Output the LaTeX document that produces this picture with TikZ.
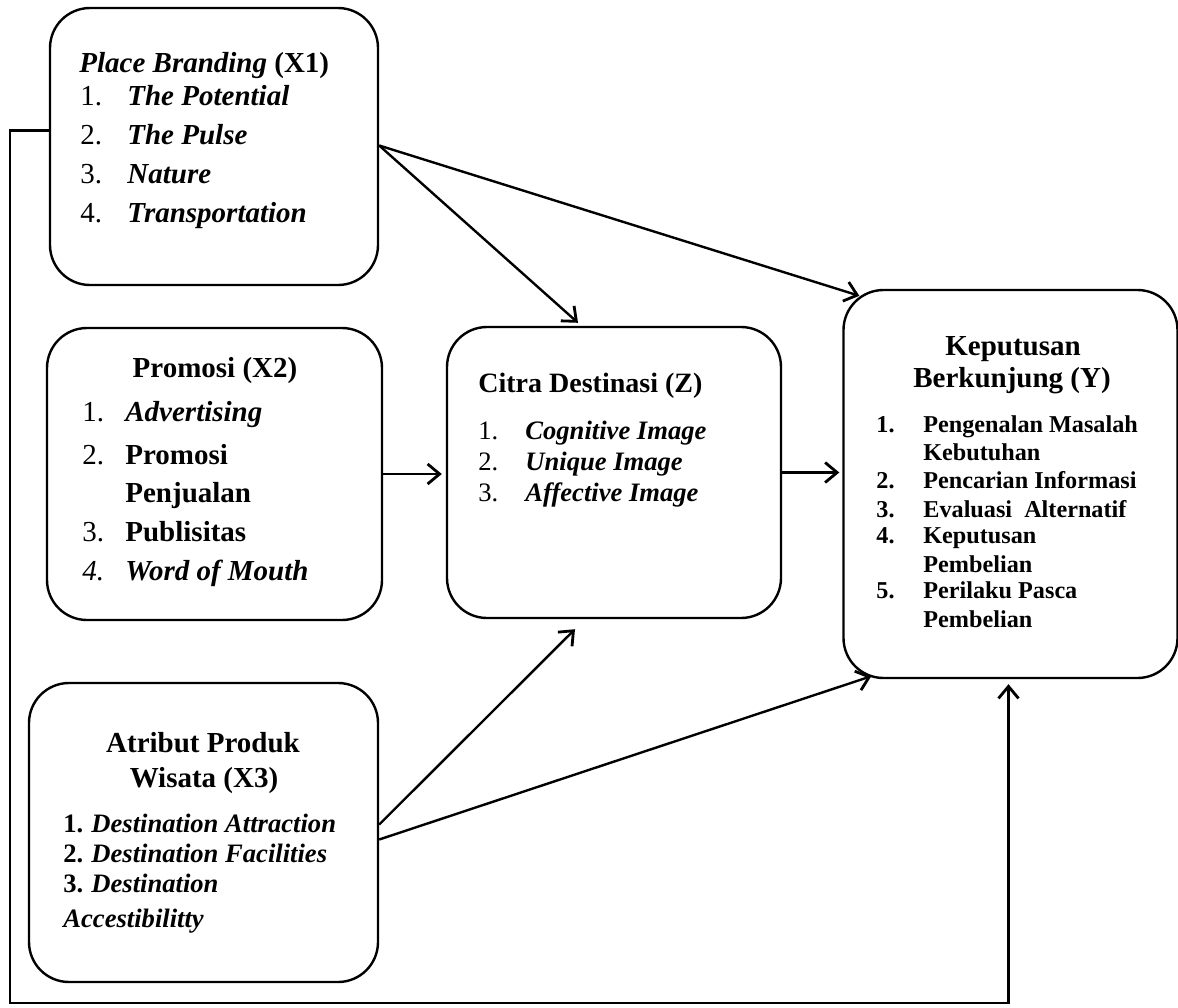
\documentclass[tikz,border=0pt]{standalone}
\usepackage{fontspec}
\setmainfont{Liberation Serif}
\usetikzlibrary{arrows.meta,calc}
\begin{document}
\begin{tikzpicture}[x=0.5pt,y=-0.5pt,
  box/.style={draw, line width=1.2pt, rounded corners=20pt, fill=white, inner sep=0pt},
  conn/.style={line width=1.2pt, -{Straight Barb[length=6pt,width=10pt,line width=1.4pt]}},
  txt/.style={anchor=base west, inner sep=0pt},
  ctxt/.style={anchor=base, inner sep=0pt},
  fa/.style={font=\fontsize{14.5}{17}\selectfont},
  fz/.style={font=\fontsize{13.3}{16}\selectfont},
  fy/.style={font=\fontsize{12.1}{14}\selectfont\bfseries},
  ft/.style={font=\fontsize{14.5}{17}\selectfont\bfseries}]
\useasboundingbox (0,0) rectangle (1178,1007);
% boxes
\node[box, minimum width=164pt, minimum height=138.5pt] (x1) at (214,146.5) {};
\node[box, minimum width=167.5pt, minimum height=146pt] (x2) at (214.5,474) {};
\node[box, minimum width=174.5pt, minimum height=149.5pt] (x3) at (203.5,832.5) {};
\node[box, minimum width=167pt, minimum height=145.5pt] (z) at (614,472.5) {};
\node[box, minimum width=167pt, minimum height=194pt] (y) at (1010.5,484) {};
% X1 text
\node[txt,fa] (x1t) at (79,72) {\textbf{\textit{Place Branding}} \textbf{(X1)}};
\node[txt,fa] (x1n1) at (80,105) {1.};
\node[txt,fa] (x1i1) at (127,105) {\textbf{\textit{The Potential}}};
\node[txt,fa] (x1n2) at (80,144) {2.};
\node[txt,fa] (x1i2) at (127,144) {\textbf{\textit{The Pulse}}};
\node[txt,fa] (x1n3) at (80,183) {3.};
\node[txt,fa] (x1i3) at (127,183) {\textbf{\textit{Nature}}};
\node[txt,fa] (x1n4) at (80,222) {4.};
\node[txt,fa] (x1i4) at (127,222) {\textbf{\textit{Transportation}}};
% X2 text
\node[ctxt,ft] (x2t) at (215,377) {Promosi (X2)};
\node[txt,fa] (x2n1) at (82,421) {1.};
\node[txt,fa] (x2i1) at (125,421) {\textbf{\textit{Advertising}}};
\node[txt,fa] (x2n2) at (82,464) {2.};
\node[txt,fa] (x2i2) at (125,464) {\textbf{Promosi}};
\node[txt,fa] (x2i2b) at (125,502) {\textbf{Penjualan}};
\node[txt,fa] (x2n3) at (82,541) {3.};
\node[txt,fa] (x2i3) at (125,541) {\textbf{Publisitas}};
\node[txt,fa] (x2n4) at (82,580) {\textit{4.}};
\node[txt,fa] (x2i4) at (125,580) {\textbf{\textit{Word of Mouth}}};
% X3 text
\node[ctxt,ft] (x3t) at (203,752) {Atribut Produk};
\node[ctxt,ft] (x3t2) at (204,787) {Wisata (X3)};
\node[txt,fz] (x3n1) at (63,832) {\textbf{1.}};
\node[txt,fz] (x3i1) at (91,832) {\textbf{\textit{Destination Attraction}}};
\node[txt,fz] (x3n2) at (63,862) {\textbf{2.}};
\node[txt,fz] (x3i2) at (91,862) {\textbf{\textit{Destination Facilities}}};
\node[txt,fz] (x3n3) at (63,892) {\textbf{3.}};
\node[txt,fz] (x3i3) at (91,892) {\textbf{\textit{Destination}}};
\node[txt,fz] (x3i3b) at (63,927) {\textbf{\textit{Accestibilitty}}};
% Z text
\node[txt,font=\fontsize{14}{17}\selectfont\bfseries] (zt) at (478,392) {Citra Destinasi (Z)};
\node[txt,fz] (zn1) at (478,439) {1.};
\node[txt,fz] (zi1) at (525,439) {\textbf{\textit{Cognitive Image}}};
\node[txt,fz] (zn2) at (478,470) {2.};
\node[txt,fz] (zi2) at (525,470) {\textbf{\textit{Unique Image}}};
\node[txt,fz] (zn3) at (478,501) {3.};
\node[txt,fz] (zi3) at (525,501) {\textbf{\textit{Affective Image}}};
% Y text
\node[ctxt,ft] (yt) at (1013,355) {Keputusan};
\node[ctxt,ft] (yt2) at (1012,387) {Berkunjung (Y)};
\node[txt,fy] (yn1) at (876,432) {1.};
\node[txt,fy] (yi1) at (923,432) {Pengenalan Masalah};
\node[txt,fy] (yi1b) at (923,460) {Kebutuhan};
\node[txt,fy] (yn2) at (876,488) {2.};
\node[txt,fy] (yi2) at (923,488) {Pencarian Informasi};
\node[txt,fy] (yn3) at (876,517) {3.};
\node[txt,fy] (yi3) at (923,517) {Evaluasi\ \ Alternatif};
\node[txt,fy] (yn4) at (876,543) {4.};
\node[txt,fy] (yi4) at (923,543) {Keputusan};
\node[txt,fy] (yi4b) at (923,572) {Pembelian};
\node[txt,fy] (yn5) at (876,598) {5.};
\node[txt,fy] (yi5) at (923,598) {Perilaku Pasca};
\node[txt,fy] (yi5b) at (923,627) {Pembelian};
% connector end points
\coordinate (x1a) at ($(x1.east)+(0,-1)$);
\coordinate (zt1) at ($(z.north)+(-36,-3)$);
\coordinate (yt1) at ($(y.north west)+(17,7)$);
\coordinate (x3a) at ($(x3.east)+(0,-8)$);
\coordinate (x3b) at ($(x3.east)+(0,7)$);
\coordinate (zb1) at ($(z.south)+(-39,10)$);
\coordinate (yb1) at ($(y.south west)+(29,-3)$);
\coordinate (fbs) at ($(x1.west)+(0,-16)$);
\coordinate (fbc) at (10,1003);
\coordinate (fbe) at (1008,1003);
\coordinate (yb2) at ($(y.south)+(-2,5)$);
% connectors
\draw[conn] (x1a) -- (zt1);
\draw[conn] (x1a) -- (yt1);
\draw[conn] (x2.east) -- ($(x2.east -| z.west)+(-4,0)$);
\draw[conn] (z.east) -- ($(z.east -| y.west)+(-3,0)$);
\draw[conn] (x3a) -- (zb1);
\draw[conn] (x3b) -- (yb1);
\draw[conn] (fbs) -| (fbc) -| (yb2);
\end{tikzpicture}
\end{document}
